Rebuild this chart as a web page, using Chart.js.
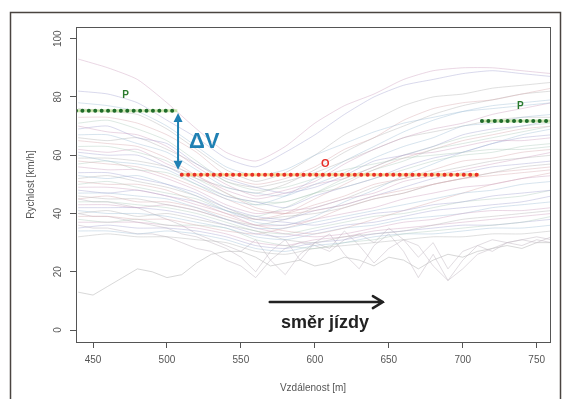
<!DOCTYPE html>
<html>
<head>
<meta charset="utf-8">
<script src="https://cdn.jsdelivr.net/npm/chart.js@4.4.1/dist/chart.umd.min.js"></script>
<style>
  html, body { margin: 0; padding: 0; background: #fff; }
  #wrap { width: 564px; height: 399px; }
</style>
</head>
<body>
<div id="wrap"><canvas id="c" width="564" height="399"></canvas></div>
<script>
// distances [m] for the speed profiles
const dist = [440, 460, 480, 500, 520, 540, 560, 580, 600, 620, 640, 660, 680, 700, 720, 740, 760];
const distFine = [440, 450, 460, 470, 480, 490, 500, 510, 520, 530, 540, 550, 560, 570, 580, 590, 600,
  610, 620, 630, 640, 650, 660, 670, 680, 690, 700, 710, 720, 730, 740, 750, 760];

// speed profiles [km/h]
const profiles = [
  [93, 90, 86, 78, 69, 61, 58, 63, 71, 77, 81, 86, 89, 90, 90, 89, 88],
  [82, 81, 78, 72, 66, 59, 56, 61, 67, 74, 80, 84, 86, 88, 89, 88, 87],
  [78, 77, 75, 70, 63, 56, 53, 55, 60, 64, 68, 71, 73, 75, 76, 77, 78],
  [76, 75, 74, 69, 62, 55, 51, 54, 60, 67, 72, 77, 80, 81, 83, 84, 85],
  [73, 73, 71, 67, 61, 53, 50, 52, 56, 62, 66, 72, 76, 78, 79, 81, 83],
  [71, 72, 69, 65, 58, 51, 48, 49, 52, 55, 57, 59, 60, 61, 62, 62, 63],
  [70, 68, 67, 63, 56, 50, 46, 48, 51, 57, 62, 66, 69, 71, 74, 76, 78],
  [69, 70, 66, 64, 57, 52, 49, 47, 49, 53, 58, 60, 63, 67, 69, 70, 72],
  [67, 67, 64, 61, 55, 49, 47, 46, 50, 54, 59, 63, 66, 70, 71, 73, 74],
  [66, 65, 66, 62, 57, 51, 49, 51, 54, 58, 62, 66, 68, 70, 72, 73, 73],
  [65, 64, 63, 59, 53, 47, 42, 40, 41, 43, 46, 48, 50, 52, 53, 54, 55],
  [63, 63, 61, 58, 52, 47, 43, 44, 47, 51, 55, 58, 62, 64, 66, 68, 70],
  [62, 61, 62, 57, 53, 48, 45, 47, 50, 52, 56, 60, 61, 63, 65, 65, 66],
  [61, 60, 60, 56, 51, 46, 44, 42, 46, 49, 52, 56, 59, 61, 64, 66, 67],
  [60, 58, 57, 55, 50, 45, 43, 46, 52, 58, 63, 68, 72, 75, 77, 78, 79],
  [59, 59, 58, 56, 52, 49, 47, 50, 55, 61, 66, 70, 74, 77, 79, 81, 82],
  [58, 57, 56, 53, 49, 45, 41, 40, 43, 46, 50, 52, 55, 58, 59, 61, 62],
  [57, 58, 55, 54, 50, 46, 44, 44, 47, 49, 52, 55, 58, 60, 61, 63, 64],
  [56, 55, 55, 52, 48, 43, 40, 41, 42, 45, 47, 51, 53, 55, 57, 59, 61],
  [54, 54, 52, 50, 47, 42, 39, 38, 41, 43, 46, 49, 52, 54, 56, 57, 58],
  [53, 52, 53, 50, 46, 41, 37, 36, 39, 44, 48, 53, 57, 61, 64, 67, 69],
  [52, 53, 51, 49, 46, 42, 38, 39, 40, 42, 45, 47, 50, 52, 54, 56, 57],
  [51, 50, 50, 48, 44, 40, 38, 40, 45, 50, 55, 59, 62, 65, 67, 69, 70],
  [50, 51, 49, 47, 45, 41, 39, 42, 47, 52, 56, 60, 63, 66, 68, 70, 71],
  [49, 49, 48, 46, 43, 40, 36, 36, 38, 40, 42, 45, 47, 49, 50, 52, 53],
  [48, 47, 48, 46, 44, 41, 38, 37, 36, 38, 40, 41, 43, 44, 46, 47, 48],
  [47, 47, 46, 45, 42, 38, 35, 35, 37, 39, 41, 43, 45, 47, 48, 50, 51],
  [46, 45, 45, 43, 41, 38, 36, 38, 42, 45, 49, 52, 54, 56, 58, 59, 60],
  [45, 46, 44, 44, 42, 39, 36, 34, 33, 35, 38, 41, 44, 47, 50, 52, 54],
  [44, 44, 43, 42, 40, 37, 34, 33, 35, 37, 39, 40, 42, 44, 45, 46, 48],
  [43, 43, 42, 43, 41, 38, 35, 33, 32, 33, 35, 37, 38, 40, 41, 41, 42],
  [42, 42, 42, 41, 39, 36, 33, 32, 34, 36, 37, 39, 41, 42, 43, 44, 46],
  [41, 40, 40, 39, 37, 35, 32, 31, 33, 35, 36, 38, 39, 40, 42, 43, 44],
  [40, 41, 39, 40, 38, 36, 34, 31, 30, 32, 33, 34, 36, 38, 39, 40, 41],
  [39, 39, 38, 38, 36, 34, 33, 35, 38, 42, 45, 47, 50, 52, 54, 55, 56],
  [38, 37, 38, 36, 36, 35, 31, 29, 28, 30, 31, 33, 34, 35, 36, 37, 39],
  [37, 37, 37, 36, 35, 33, 30, 29, 31, 32, 34, 35, 36, 37, 38, 39, 40],
  [35, 36, 35, 35, 34, 32, 29, 28, 30, 31, 33, 34, 35, 36, 36, 37, 38],
  [34, 34, 33, 34, 33, 31, 28, 27, 29, 30, 32, 33, 33, 34, 35, 35, 36],
  [32, 33, 32, 32, 31, 30, 27, 26, 28, 29, 30, 31, 32, 32, 33, 33, 34]
];

// noisier profiles with sharp drops, on the fine distance grid
const profilesFine = [
  [40, 39, 39, 38, 37, 36, 35, 33, 32, 30, 28, 25, 20, 27, 31, 24, 30, 33, 26, 21, 29, 33, 27, 18, 26, 17, 24, 29, 31, 30, 31, 32, 31],
  [45, 44, 44, 43, 42, 40, 38, 36, 33, 31, 29, 27, 31, 24, 19, 26, 30, 28, 34, 29, 23, 28, 31, 25, 30, 21, 27, 29, 27, 30, 31, 30, 32],
  [13, 12, 15, 18, 21, 20, 18, 19, 23, 26, 27, 27, 25, 22, 23, 24, 22, 23, 25, 24, 22, 25, 24, 21, 24, 26, 25, 27, 28, 29, 28, 30, 30],
  [36, 35, 35, 34, 33, 33, 32, 30, 28, 27, 24, 22, 18, 24, 28, 30, 29, 27, 31, 33, 30, 35, 31, 29, 22, 17, 21, 26, 28, 30, 29, 31, 30]
];

// reference levels: P before, O inside, P after [from m, to m, km/h]
const levelP1 = [438.5, 507, 75.3];
const levelO = [510, 711, 53.3];
const levelP2 = [713, 759, 71.7];

const xTicks = [450, 500, 550, 600, 650, 700, 750];
const yTicks = [0, 20, 40, 60, 80, 100];

const lineColors = [
  'rgba(205,160,190,0.42)', 'rgba(165,165,210,0.42)', 'rgba(160,190,215,0.42)',
  'rgba(185,185,185,0.45)', 'rgba(215,170,175,0.42)', 'rgba(170,200,185,0.4)'
];

const datasets = [];
profiles.forEach((row, i) => {
  datasets.push({
    data: row.map((v, k) => ({ x: dist[k], y: v })),
    borderColor: lineColors[i % lineColors.length],
    borderWidth: 1, pointRadius: 0, tension: 0.2, order: 2
  });
});
profilesFine.forEach((row, i) => {
  datasets.push({
    data: row.map((v, k) => ({ x: distFine[k], y: v })),
    borderColor: i == 2 ? 'rgba(190,190,190,0.6)' : 'rgba(195,185,195,0.5)',
    borderWidth: 1, pointRadius: 0, order: 2
  });
});

// level lines: light halo under a dotted line
const levelLine = (lv, halo, dot) => [
  { data: [{ x: lv[0], y: lv[2] }, { x: lv[1], y: lv[2] }], borderColor: dot, borderWidth: 4,
    borderDash: [0.01, 6.4], borderCapStyle: 'round', pointRadius: 0, order: 0 },
  { data: [{ x: lv[0], y: lv[2] }, { x: lv[1], y: lv[2] }], borderColor: halo, borderWidth: 3,
    pointRadius: 0, order: 1 }
];
datasets.push(...levelLine(levelP1, 'rgba(170,215,120,0.6)', '#1f6b2a'));
datasets.push(...levelLine(levelO, 'rgba(250,205,110,0.75)', '#e8302a'));
datasets.push(...levelLine(levelP2, 'rgba(170,215,120,0.6)', '#1f6b2a'));

const overlay = {
  id: 'overlay',
  beforeDraw(chart) {
    const ctx = chart.ctx;
    ctx.save();
    ctx.fillStyle = '#fff';
    ctx.fillRect(0, 0, chart.width, chart.height);
    ctx.restore();
  },
  afterDraw(chart) {
    const { ctx, chartArea: a } = chart;
    const sx = chart.scales.x, sy = chart.scales.y;
    const px = v => sx.getPixelForValue(v), py = v => sy.getPixelForValue(v);
    ctx.save();

    // plot box
    ctx.strokeStyle = '#555';
    ctx.lineWidth = 1;
    ctx.strokeRect(Math.round(a.left) + 0.5, Math.round(a.top) + 0.5,
      Math.round(a.right - a.left), Math.round(a.bottom - a.top));

    // outer frame
    ctx.strokeStyle = '#4a4440';
    ctx.lineWidth = 1.5;
    ctx.strokeRect(10.5, 12.5, 550, 400);

    // y tick labels, rotated like R
    ctx.fillStyle = '#555';
    ctx.font = '10px "Liberation Sans", Arial, sans-serif';
    ctx.textAlign = 'center';
    ctx.textBaseline = 'middle';
    yTicks.forEach(t => {
      ctx.save();
      ctx.translate(58, py(t));
      ctx.rotate(-Math.PI / 2);
      ctx.fillText(String(t), 0, 0);
      ctx.restore();
    });

    // axis titles
    ctx.save();
    ctx.translate(31, (a.top + a.bottom) / 2);
    ctx.rotate(-Math.PI / 2);
    ctx.fillText('Rychlost [km/h]', 0, 0);
    ctx.restore();
    ctx.fillText('Vzdálenost [m]', (a.left + a.right) / 2, 388);

    // ΔV double arrow
    const ax = px(507.5), ay1 = py(74.5), ay2 = py(55);
    ctx.strokeStyle = '#1f80b3';
    ctx.fillStyle = '#1f80b3';
    ctx.lineWidth = 2;
    ctx.beginPath();
    ctx.moveTo(ax, ay1 + 6);
    ctx.lineTo(ax, ay2 - 6);
    ctx.stroke();
    ctx.beginPath();
    ctx.moveTo(ax, ay1); ctx.lineTo(ax - 4.5, ay1 + 9); ctx.lineTo(ax + 4.5, ay1 + 9); ctx.closePath();
    ctx.fill();
    ctx.beginPath();
    ctx.moveTo(ax, ay2); ctx.lineTo(ax - 4.5, ay2 - 9); ctx.lineTo(ax + 4.5, ay2 - 9); ctx.closePath();
    ctx.fill();
    ctx.font = 'bold 22px "Liberation Sans", Arial, sans-serif';
    ctx.textAlign = 'left';
    ctx.fillText('ΔV', ax + 11, py(64.5));

    // level labels
    ctx.textAlign = 'center';
    ctx.font = 'bold 10px "Liberation Sans", Arial, sans-serif';
    ctx.fillStyle = '#2a7a2e';
    ctx.fillText('P', px(472), py(80.5));
    ctx.fillText('P', px(739), py(76.8));
    ctx.fillStyle = '#e8302a';
    ctx.font = 'bold 11px "Liberation Sans", Arial, sans-serif';
    ctx.fillText('O', px(607), py(57));

    // direction arrow
    const bx1 = px(569.5), bx2 = px(646), by = py(9.6);
    ctx.strokeStyle = '#222';
    ctx.lineWidth = 2.5;
    ctx.lineCap = 'round';
    ctx.beginPath();
    ctx.moveTo(bx1, by); ctx.lineTo(bx2, by);
    ctx.moveTo(bx2 - 10, by - 6); ctx.lineTo(bx2, by); ctx.lineTo(bx2 - 10, by + 6);
    ctx.stroke();
    ctx.fillStyle = '#222';
    ctx.font = 'bold 18px "Liberation Sans", Arial, sans-serif';
    ctx.fillText('směr jízdy', 325, 323);

    ctx.restore();
  }
};

new Chart(document.getElementById('c'), {
  type: 'line',
  data: { datasets },
  options: {
    responsive: false,
    animation: false,
    events: [],
    layout: { padding: { top: 27, right: 14, left: 0, bottom: 0 } },
    plugins: { legend: { display: false }, tooltip: { enabled: false } },
    scales: {
      x: {
        type: 'linear', min: 438.5, max: 759,
        afterBuildTicks: s => { s.ticks = xTicks.map(v => ({ value: v })); },
        afterFit: s => { s.height = 57; },
        border: { display: false },
        grid: { drawOnChartArea: false, drawTicks: true, tickLength: 6, color: '#555' },
        ticks: { color: '#555', padding: 6, maxRotation: 0, font: { size: 10, family: '"Liberation Sans", Arial, sans-serif' } }
      },
      y: {
        type: 'linear', min: -4.1, max: 104,
        afterBuildTicks: s => { s.ticks = yTicks.map(v => ({ value: v })); },
        afterFit: s => { s.width = 76; },
        border: { display: false },
        grid: { drawOnChartArea: false, drawTicks: true, tickLength: 6, color: '#555' },
        ticks: { display: false }
      }
    }
  },
  plugins: [overlay]
});
</script>
</body>
</html>
